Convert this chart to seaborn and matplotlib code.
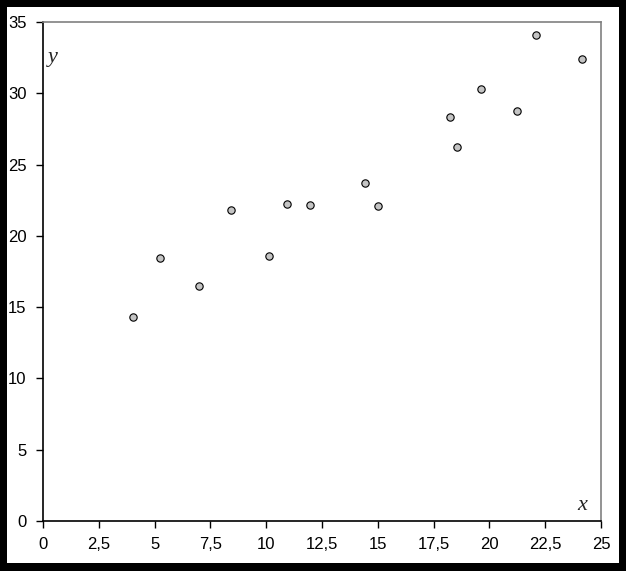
import pandas as pd
import matplotlib
matplotlib.use("Agg")
import matplotlib.pyplot as plt
import seaborn as sns

# values
x_vals = [4.03, 5.24, 6.99, 8.42, 10.13, 10.93, 11.96, 14.43, 15.01,
          18.23, 18.55, 19.62, 21.24, 22.09, 24.15]
y_vals = [14.31, 18.45, 16.48, 21.81, 18.59, 22.23, 22.16, 23.71, 22.09,
          28.34, 26.23, 30.30, 28.76, 34.09, 32.40]

x_ticks = [0, 2.5, 5, 7.5, 10, 12.5, 15, 17.5, 20, 22.5, 25]
x_tick_labels = ["0", "2,5", "5", "7,5", "10", "12,5", "15", "17,5", "20", "22,5", "25"]
y_ticks = [0, 5, 10, 15, 20, 25, 30, 35]
y_tick_labels = ["0", "5", "10", "15", "20", "25", "30", "35"]

df = pd.DataFrame({"x": x_vals, "y": y_vals})

sns.set_style("ticks")
plt.rcParams["font.family"] = ["Liberation Sans", "DejaVu Sans"]

fig = plt.figure(figsize=(6.26, 5.71), dpi=100, facecolor="black")
# white panel inside the black frame
panel = plt.Rectangle((7 / 626, 8 / 571), 612 / 626, 556 / 571,
                      transform=fig.transFigure, facecolor="white",
                      edgecolor="none", zorder=-5)
fig.add_artist(panel)
ax = fig.add_axes([43 / 626, 1 - 521 / 571, 558 / 626, 499 / 571])
ax.set_zorder(2)
ax.set_facecolor("white")

sns.scatterplot(data=df, x="x", y="y", ax=ax, s=28, color="#c4c4c4",
                edgecolor="black", linewidth=0.8, zorder=3)

ax.set_xlim(0, 25)
ax.set_ylim(0, 35)
ax.set_xticks(x_ticks)
ax.set_xticklabels(x_tick_labels)
ax.set_yticks(y_ticks)
ax.set_yticklabels(y_tick_labels)
ax.tick_params(axis="both", labelsize=12, length=5, width=1, color="black",
               labelcolor="black", direction="out")
ax.tick_params(axis="x", pad=6.5)
ax.tick_params(axis="y", pad=7)
ax.set_xlabel("")
ax.set_ylabel("")

for side in ["left", "bottom"]:
    ax.spines[side].set_color("black")
    ax.spines[side].set_linewidth(1.2)
for side in ["top", "right"]:
    ax.spines[side].set_visible(True)
    ax.spines[side].set_color("#808080")
    ax.spines[side].set_linewidth(1.2)

ax.text(0.009, 0.92, "y", transform=ax.transAxes, fontsize=16, style="italic",
        family=["Liberation Serif", "DejaVu Serif"], ha="left", va="baseline")
ax.text(0.966, 0.022, "x", transform=ax.transAxes, fontsize=16, style="italic",
        family=["Liberation Serif", "DejaVu Serif"], ha="center", va="baseline")

fig.savefig("out.png", dpi=100, facecolor="black")
